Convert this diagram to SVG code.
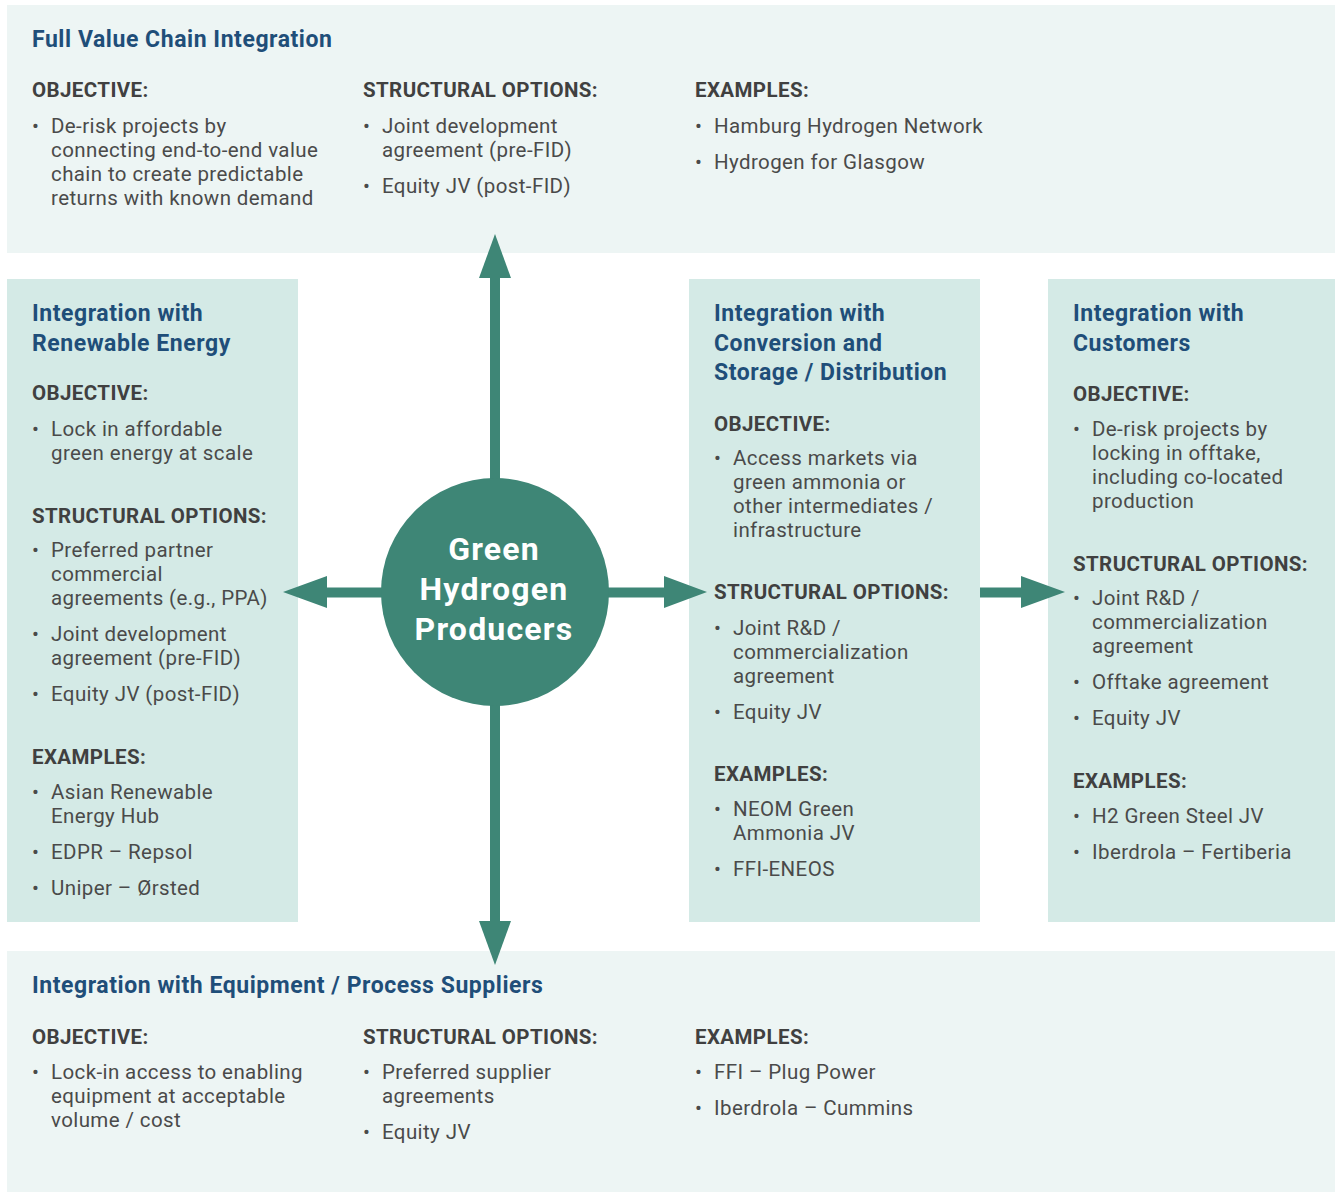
<svg xmlns="http://www.w3.org/2000/svg" width="1335" height="1192" viewBox="0 0 1335 1192">
  <style>
    text { font-family: Roboto, "Liberation Sans", Arial, sans-serif; }
    .panel-light { fill: #edf5f4; }
    .panel-mid { fill: #d4eae6; }
    .title { font-size: 23px; font-weight: 700; fill: #1f4e79; letter-spacing: 0.55px; }
    .head { font-size: 20.5px; font-weight: 700; fill: #404040; letter-spacing: 0.4px; }
    .body { font-size: 20.5px; fill: #4a4a4a; letter-spacing: 0.4px; }
    .hub-label { font-size: 32px; font-weight: 700; fill: #ffffff; text-anchor: middle; letter-spacing: 1.2px; }
    .arrow { fill: #3e8676; }
  </style>

  <rect width="1335" height="1192" fill="#ffffff"/>

  <!-- Top: full value chain -->
  <g id="full-value-chain">
    <rect class="panel-light" x="7" y="5" width="1328" height="248"/>
    <text class="title" x="32" y="47">Full Value Chain Integration</text>
    <text class="head" x="32" y="97">OBJECTIVE:</text>
    <text class="body"><tspan x="32" y="133">•</tspan></text>
    <text class="body"><tspan x="51" y="133">De-risk projects by</tspan><tspan x="51" y="157">connecting end-to-end value</tspan><tspan x="51" y="181">chain to create predictable</tspan><tspan x="51" y="205">returns with known demand</tspan></text>
    <text class="head" x="363" y="97">STRUCTURAL OPTIONS:</text>
    <text class="body"><tspan x="363" y="133">•</tspan><tspan x="363" y="193">•</tspan></text>
    <text class="body"><tspan x="382" y="133">Joint development</tspan><tspan x="382" y="157">agreement (pre-FID)</tspan><tspan x="382" y="193">Equity JV (post-FID)</tspan></text>
    <text class="head" x="695" y="97">EXAMPLES:</text>
    <text class="body"><tspan x="695" y="133">•</tspan><tspan x="695" y="169">•</tspan></text>
    <text class="body"><tspan x="714" y="133">Hamburg Hydrogen Network</tspan><tspan x="714" y="169">Hydrogen for Glasgow</tspan></text>
  </g>

  <!-- Left: renewable energy -->
  <g id="renewable-energy">
    <rect class="panel-mid" x="7" y="279" width="291" height="643"/>
    <text class="title"><tspan x="32" y="321">Integration with</tspan><tspan x="32" y="351">Renewable Energy</tspan></text>
    <text class="head" x="32" y="400">OBJECTIVE:</text>
    <text class="body"><tspan x="32" y="436">•</tspan></text>
    <text class="body"><tspan x="51" y="436">Lock in affordable</tspan><tspan x="51" y="460">green energy at scale</tspan></text>
    <text class="head" x="32" y="523">STRUCTURAL OPTIONS:</text>
    <text class="body"><tspan x="32" y="557">•</tspan><tspan x="32" y="641">•</tspan><tspan x="32" y="701">•</tspan></text>
    <text class="body"><tspan x="51" y="557">Preferred partner</tspan><tspan x="51" y="581">commercial</tspan><tspan x="51" y="605">agreements (e.g., PPA)</tspan><tspan x="51" y="641">Joint development</tspan><tspan x="51" y="665">agreement (pre-FID)</tspan><tspan x="51" y="701">Equity JV (post-FID)</tspan></text>
    <text class="head" x="32" y="764">EXAMPLES:</text>
    <text class="body"><tspan x="32" y="799">•</tspan><tspan x="32" y="859">•</tspan><tspan x="32" y="895">•</tspan></text>
    <text class="body"><tspan x="51" y="799">Asian Renewable</tspan><tspan x="51" y="823">Energy Hub</tspan><tspan x="51" y="859">EDPR – Repsol</tspan><tspan x="51" y="895">Uniper – Ørsted</tspan></text>
  </g>

  <!-- Middle: conversion and storage / distribution -->
  <g id="conversion-storage">
    <rect class="panel-mid" x="689" y="279" width="291" height="643"/>
    <text class="title"><tspan x="714" y="321">Integration with</tspan><tspan x="714" y="351">Conversion and</tspan><tspan x="714" y="380">Storage / Distribution</tspan></text>
    <text class="head" x="714" y="431">OBJECTIVE:</text>
    <text class="body"><tspan x="714" y="465">•</tspan></text>
    <text class="body"><tspan x="733" y="465">Access markets via</tspan><tspan x="733" y="489">green ammonia or</tspan><tspan x="733" y="513">other intermediates /</tspan><tspan x="733" y="537">infrastructure</tspan></text>
    <text class="head" x="714" y="599">STRUCTURAL OPTIONS:</text>
    <text class="body"><tspan x="714" y="635">•</tspan><tspan x="714" y="719">•</tspan></text>
    <text class="body"><tspan x="733" y="635">Joint R&amp;D /</tspan><tspan x="733" y="659">commercialization</tspan><tspan x="733" y="683">agreement</tspan><tspan x="733" y="719">Equity JV</tspan></text>
    <text class="head" x="714" y="781">EXAMPLES:</text>
    <text class="body"><tspan x="714" y="816">•</tspan><tspan x="714" y="876">•</tspan></text>
    <text class="body"><tspan x="733" y="816">NEOM Green</tspan><tspan x="733" y="840">Ammonia JV</tspan><tspan x="733" y="876">FFI-ENEOS</tspan></text>
  </g>

  <!-- Right: customers -->
  <g id="customers">
    <rect class="panel-mid" x="1048" y="279" width="287" height="643"/>
    <text class="title"><tspan x="1073" y="321">Integration with</tspan><tspan x="1073" y="351">Customers</tspan></text>
    <text class="head" x="1073" y="401">OBJECTIVE:</text>
    <text class="body"><tspan x="1073" y="436">•</tspan></text>
    <text class="body"><tspan x="1092" y="436">De-risk projects by</tspan><tspan x="1092" y="460">locking in offtake,</tspan><tspan x="1092" y="484">including co-located</tspan><tspan x="1092" y="508">production</tspan></text>
    <text class="head" x="1073" y="571">STRUCTURAL OPTIONS:</text>
    <text class="body"><tspan x="1073" y="605">•</tspan><tspan x="1073" y="689">•</tspan><tspan x="1073" y="725">•</tspan></text>
    <text class="body"><tspan x="1092" y="605">Joint R&amp;D /</tspan><tspan x="1092" y="629">commercialization</tspan><tspan x="1092" y="653">agreement</tspan><tspan x="1092" y="689">Offtake agreement</tspan><tspan x="1092" y="725">Equity JV</tspan></text>
    <text class="head" x="1073" y="788">EXAMPLES:</text>
    <text class="body"><tspan x="1073" y="823">•</tspan><tspan x="1073" y="859">•</tspan></text>
    <text class="body"><tspan x="1092" y="823">H2 Green Steel JV</tspan><tspan x="1092" y="859">Iberdrola – Fertiberia</tspan></text>
  </g>

  <!-- Bottom: equipment / process suppliers -->
  <g id="equipment-suppliers">
    <rect class="panel-light" x="7" y="951" width="1328" height="241"/>
    <text class="title" x="32" y="993">Integration with Equipment / Process Suppliers</text>
    <text class="head" x="32" y="1044">OBJECTIVE:</text>
    <text class="body"><tspan x="32" y="1079">•</tspan></text>
    <text class="body"><tspan x="51" y="1079">Lock-in access to enabling</tspan><tspan x="51" y="1103">equipment at acceptable</tspan><tspan x="51" y="1127">volume / cost</tspan></text>
    <text class="head" x="363" y="1044">STRUCTURAL OPTIONS:</text>
    <text class="body"><tspan x="363" y="1079">•</tspan><tspan x="363" y="1139">•</tspan></text>
    <text class="body"><tspan x="382" y="1079">Preferred supplier</tspan><tspan x="382" y="1103">agreements</tspan><tspan x="382" y="1139">Equity JV</tspan></text>
    <text class="head" x="695" y="1044">EXAMPLES:</text>
    <text class="body"><tspan x="695" y="1079">•</tspan><tspan x="695" y="1115">•</tspan></text>
    <text class="body"><tspan x="714" y="1079">FFI – Plug Power</tspan><tspan x="714" y="1115">Iberdrola – Cummins</tspan></text>
  </g>

  <!-- Connectors radiating from the hub -->
  <g id="connectors">
    <!-- up -->
    <rect class="arrow" x="490" y="276" width="10" height="210"/>
    <polygon class="arrow" points="479,278 511,278 495,234"/>
    <!-- down -->
    <rect class="arrow" x="490" y="700" width="10" height="223"/>
    <polygon class="arrow" points="479,921 511,921 495,965"/>
    <!-- left -->
    <rect class="arrow" x="325" y="587.5" width="62" height="10"/>
    <polygon class="arrow" points="327,576 327,608 283,592"/>
    <!-- right -->
    <rect class="arrow" x="603" y="587.5" width="63" height="10"/>
    <polygon class="arrow" points="664,576 664,608 707,592"/>
    <!-- conversion to customers -->
    <rect class="arrow" x="980" y="587.5" width="43" height="10"/>
    <polygon class="arrow" points="1021,576 1021,608 1065,592"/>
  </g>

  <!-- Hub -->
  <g id="hub">
    <circle cx="495" cy="592" r="114" fill="#3e8676"/>
    <text class="hub-label"><tspan x="494" y="560">Green</tspan><tspan x="494" y="600">Hydrogen</tspan><tspan x="494" y="640">Producers</tspan></text>
  </g>
</svg>
